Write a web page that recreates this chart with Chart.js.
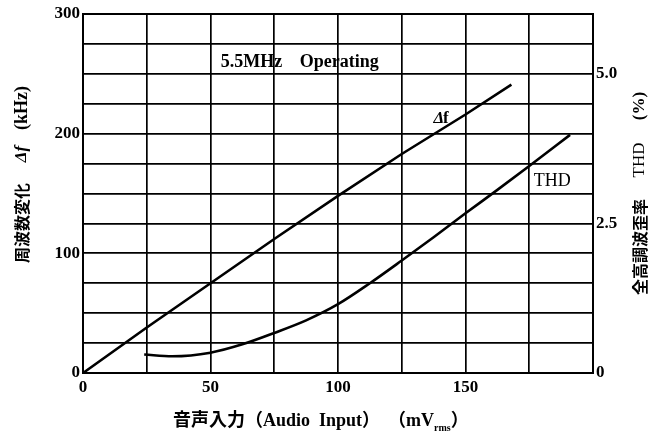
<!DOCTYPE html>
<html><head><meta charset="utf-8">
<script src="https://cdn.jsdelivr.net/npm/chart.js@4"></script>
<style>html,body{margin:0;padding:0;background:#fff}#wrap{width:653px;height:443px}</style>
</head><body><div id="wrap"><canvas id="c" width="653" height="443"></canvas></div>
<script>
// Data
const dfX = [0, 25, 50, 75, 100, 125, 150, 168];
const dfY = [0, 38, 75, 112, 148, 183, 216, 241];            // kHz
const thdX = [24, 35, 50, 62.5, 75, 87.5, 100, 112.5, 125, 137.5, 150, 162.5, 175, 191];
const thdY = [0.31, 0.28, 0.34, 0.48, 0.67, 0.88, 1.15, 1.50, 1.88, 2.27, 2.67, 3.06, 3.46, 3.98]; // %
const xTickLabels = [0, 50, 100, 150];
const leftTickLabels = [0, 100, 200, 300];
const rightTickLabels = [0, 2.5, 5.0];

const SERIF = "'Liberation Serif','Noto Sans CJK JP',serif";
const tickFont = {family: SERIF, size: 17, weight: 'bold'};

const textPlugin = {
  id: 'texts',
  afterDraw(chart) {
    const ctx = chart.ctx, a = chart.chartArea;
    const sx = chart.scales.x, sy = chart.scales.y, sy2 = chart.scales.y2;
    ctx.save();
    // frame
    ctx.strokeStyle = '#000'; ctx.lineWidth = 2;
    ctx.strokeRect(a.left, a.top, a.right - a.left, a.bottom - a.top);
    ctx.fillStyle = '#000';
    ctx.textBaseline = 'middle';
    // in-plot annotations
    ctx.textAlign = 'left';
    ctx.font = "bold 18px " + SERIF;
    ctx.fillText('5.5MHz', sx.getPixelForValue(54), sy.getPixelForValue(260));
    ctx.fillText('Operating', sx.getPixelForValue(85), sy.getPixelForValue(260));
    // Δf label
    let px = sx.getPixelForValue(139) - 4, py = sy.getPixelForValue(213);
    ctx.font = "italic bold 17px " + SERIF;
    ctx.fillText('Δ', px, py);
    let w = ctx.measureText('Δ').width;
    ctx.font = "bold 17px " + SERIF;
    ctx.fillText('f', px + w - 1, py);
    // THD label
    ctx.textAlign = 'center';
    ctx.font = "18px " + SERIF;
    ctx.fillText('THD', sx.getPixelForValue(184), sy2.getPixelForValue(3.2));

    // rotated axis titles (read bottom to top)
    const drawRot = (x, pieces) => {
      for (const p of pieces) {
        ctx.save();
        ctx.translate(x, p[1]);
        ctx.rotate(-Math.PI / 2);
        ctx.textAlign = 'center';
        ctx.textBaseline = 'middle';
        ctx.font = p[2];
        ctx.fillText(p[0], 0, 0);
        ctx.restore();
      }
    };
    drawRot(22, [
      ['周波数変化', 223, "bold 16px 'Noto Sans CJK JP'"],
      ['Δf', 154, "italic bold 17px " + SERIF],
      ['(kHz)', 108, "bold 18px " + SERIF]
    ]);
    drawRot(640, [
      ['全高調波歪率', 247, "bold 16px 'Noto Sans CJK JP'"],
      ['THD', 160, "17px " + SERIF],
      ['(%)', 106, "bold 17px " + SERIF]
    ]);

    // x axis title
    ctx.textAlign = 'left';
    ctx.textBaseline = 'alphabetic';
    let x = 173, base = 426;
    const put = (t, f, dy) => { ctx.font = f; ctx.fillText(t, x, base + (dy || 0)); x += ctx.measureText(t).width; };
    put('音声入力', "bold 18px 'Noto Sans CJK JP'");
    put('（', "bold 18px 'Noto Sans CJK JP'");
    put('Audio  Input', "bold 18px " + SERIF);
    put('）', "bold 18px 'Noto Sans CJK JP'");
    x += 8;
    put('（', "bold 18px 'Noto Sans CJK JP'");
    put('mV', "bold 18px " + SERIF);
    put('rms', "bold 10px " + SERIF, 5);
    put('）', "bold 18px 'Noto Sans CJK JP'");
    ctx.restore();
  }
};

const gridStyle = {color: '#000', lineWidth: 1.7, drawTicks: false, tickLength: 0};
const borderStyle = {display: true, color: '#000', width: 2};

new Chart(document.getElementById('c'), {
  type: 'line',
  data: {
    datasets: [
      {label: 'Δf', data: dfX.map((v, i) => ({x: v, y: dfY[i]})), yAxisID: 'y',
       borderColor: '#000', borderWidth: 2.6, pointRadius: 0, fill: false, tension: 0},
      {label: 'THD', data: thdX.map((v, i) => ({x: v, y: thdY[i]})), yAxisID: 'y2',
       borderColor: '#000', borderWidth: 2.6, pointRadius: 0, fill: false, cubicInterpolationMode: 'monotone'}
    ]
  },
  options: {
    responsive: false, animation: false, devicePixelRatio: 1,
    layout: {padding: {top: 14, left: 0, right: 0, bottom: 0}},
    plugins: {legend: {display: false}, tooltip: {enabled: false}},
    scales: {
      x: {type: 'linear', min: 0, max: 200,
          ticks: {stepSize: 25, autoSkip: false, maxRotation: 0, padding: 4, color: '#000', font: tickFont,
                  callback: v => xTickLabels.includes(v) ? String(v) : ''},
          grid: gridStyle, border: borderStyle,
          afterFit: s => { s.height = 70; }},
      y: {type: 'linear', position: 'left', min: 0, max: 300,
          ticks: {stepSize: 25, autoSkip: false, padding: 3, color: '#000', font: tickFont,
                  callback: v => leftTickLabels.includes(v) ? String(v) : ''},
          grid: gridStyle, border: borderStyle,
          afterFit: s => { s.width = 83; }},
      y2: {type: 'linear', position: 'right', min: 0, max: 6,
          ticks: {stepSize: 0.5, autoSkip: false, padding: 3, color: '#000', font: tickFont,
                  callback: v => rightTickLabels.includes(v) ? (v === 0 ? '0' : v.toFixed(1)) : ''},
          grid: {display: false, drawTicks: false, tickLength: 0}, border: borderStyle,
          afterFit: s => { s.width = 60; }}
    }
  },
  plugins: [textPlugin]
});
</script>
</body></html>
